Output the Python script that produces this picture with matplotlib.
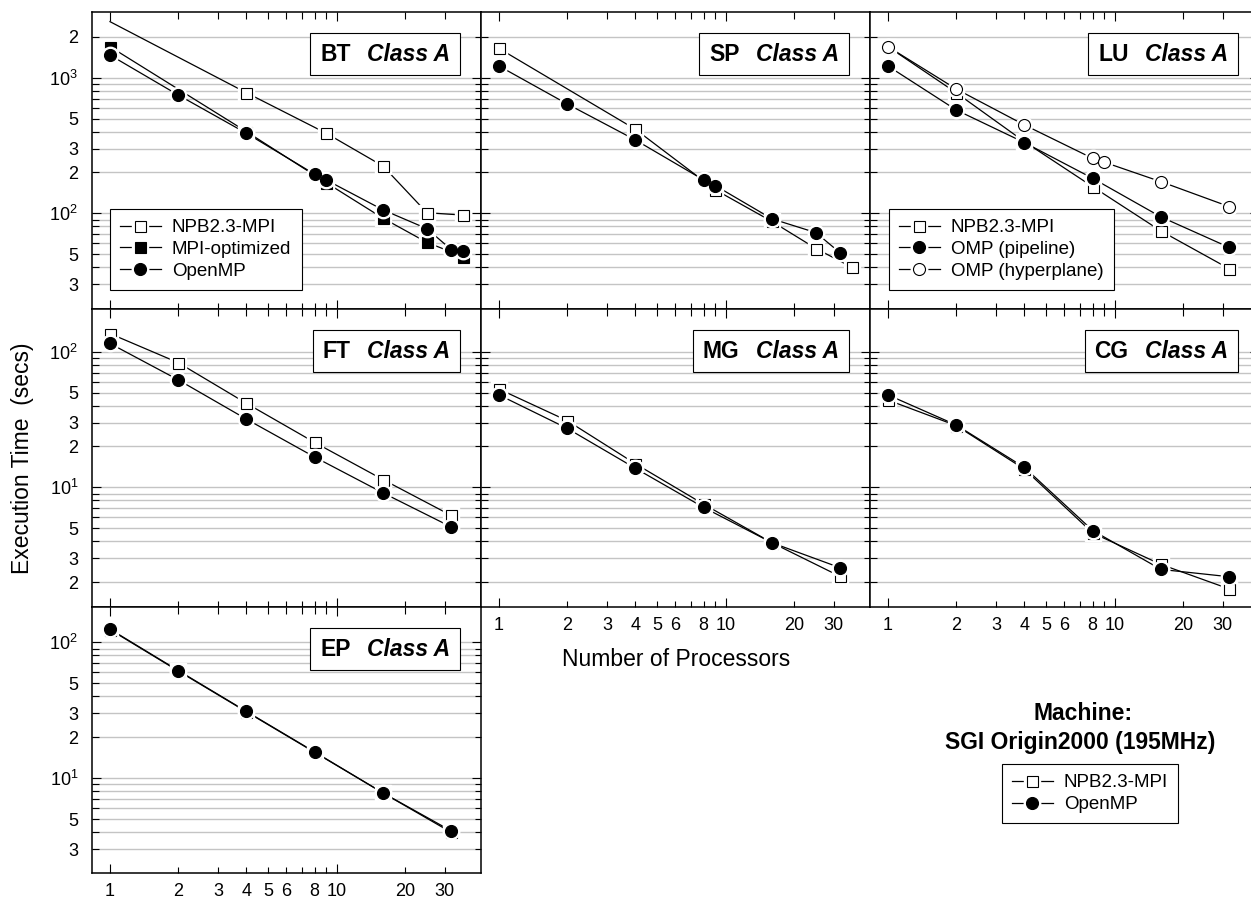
import numpy as np
import matplotlib
matplotlib.use("Agg")
import matplotlib.pyplot as plt
from matplotlib.lines import Line2D
from matplotlib.ticker import FixedLocator, FuncFormatter
from matplotlib.legend_handler import HandlerTuple
from matplotlib.offsetbox import TextArea, HPacker, AnchoredOffsetbox

plt.rcParams["font.family"] = ["Liberation Sans", "DejaVu Sans"]
plt.rcParams["mathtext.fontset"] = "custom"
plt.rcParams["mathtext.rm"] = "Liberation Sans"

# ---------------- data: execution time (secs) vs number of processors ----------------
bt_mpi_procs = [1, 4, 9, 16, 25, 36]
bt_mpi_time = [2590, 774, 389, 223, 101, 97]
bt_opt_procs = [1, 4, 9, 16, 25, 36]
bt_opt_time = [1693, 400, 168, 92, 61, 48]
bt_omp_procs = [1, 2, 4, 8, 9, 16, 25, 32, 36]
bt_omp_time = [1469, 745, 389, 194, 176, 106, 77, 54, 53]

sp_mpi_procs = [1, 4, 9, 16, 25, 36]
sp_mpi_time = [1644, 416, 149, 87, 55, 40]
sp_omp_procs = [1, 2, 4, 8, 9, 16, 25, 32]
sp_omp_time = [1219, 640, 347, 176, 160, 91, 72, 51]

lu_procs = [1, 2, 4, 8, 16, 32]
lu_mpi_time = [1693, 774, 337, 157, 74, 39]
lu_pipe_time = [1219, 578, 332, 181, 94, 56]
lu_hyper_procs = [1, 2, 4, 8, 9, 16, 32]
lu_hyper_time = [1693, 825, 448, 254, 238, 171, 112]

procs = [1, 2, 4, 8, 16, 32]
ft_mpi_time = [136, 83, 41.6, 21.4, 11.4, 6.2]
ft_omp_time = [115, 62, 31.8, 16.7, 9.1, 5.1]
mg_mpi_time = [53, 31, 14.9, 7.5, 3.9, 2.2]
mg_omp_time = [48, 27.2, 13.8, 7.1, 3.9, 2.55]
cg_mpi_time = [44, 28.5, 13.6, 4.6, 2.7, 1.78]
cg_omp_time = [48, 28.8, 14.0, 4.8, 2.48, 2.19]
ep_mpi_time = [124, 61.5, 30.8, 15.5, 7.8, 4.0]
ep_omp_time = [125, 62, 31, 15.6, 7.8, 4.1]

x_tick_labels = [1, 2, 3, 4, 5, 6, 8, 10, 20, 30]
labels_mpi = "NPB2.3-MPI"
labels_opt = "MPI-optimized"
labels_omp = "OpenMP"
labels_pipe = "OMP (pipeline)"
labels_hyper = "OMP (hyperplane)"

# ---------------- styling ----------------
W, H = 1251, 900
DPI = 100
PX = 72.0 / DPI  # points per pixel

STYLES = {
    "mpi": ("s", "white", 11 * PX),
    "opt": ("s", "black", 11 * PX),
    "omp": ("o", "black", 12 * PX),
    "hyper": ("o", "white", 12 * PX),
}
LW = 0.9
HALO = 3.2
GRID_C = "#c4c4c4"
TXT = 16.5
TICK = 13
LEG = 13.5

col_left = [92, 481, 870]
col_w = 389
row_top = [12, 309, 607]
row_bot = [309, 607, 873]
row_ylim = [(19.69, 3051), (1.31, 206.5), (2.01, 181.8)]
xlim = (0.833, 43.3)

fig = plt.figure(figsize=(W / DPI, H / DPI), dpi=DPI)


def make_ax(r, c):
    l = col_left[c] / W
    b = 1 - row_bot[r] / H
    h = (row_bot[r] - row_top[r]) / H
    ax = fig.add_axes([l, b, col_w / W, h])
    ax.set_xscale("log")
    ax.set_yscale("log")
    ax.set_xlim(*xlim)
    ymin, ymax = row_ylim[r]
    ax.set_ylim(ymin, ymax)
    ax.set_axisbelow(True)

    lo, hi = np.log10(ymin) + 0.02, np.log10(ymax) - 0.02
    majors, minors = [], []
    for e in range(-1, 5):
        for m in range(1, 10):
            v = m * 10.0 ** e
            if lo < np.log10(v) < hi:
                (majors if m == 1 else minors).append(v)
    ax.yaxis.set_major_locator(FixedLocator(majors))
    ax.yaxis.set_minor_locator(FixedLocator(minors))

    def yfmt(v, pos):
        e = int(np.floor(np.log10(v) + 1e-9))
        m = int(round(v / 10.0 ** e))
        if m == 1:
            return r"$\mathregular{10^{%d}}$" % e
        if m in (2, 3, 5):
            return "%d" % m
        return ""

    ax.yaxis.set_major_formatter(FuncFormatter(yfmt))
    ax.yaxis.set_minor_formatter(FuncFormatter(yfmt))

    ax.xaxis.set_major_locator(FixedLocator([1, 10]))
    ax.xaxis.set_minor_locator(FixedLocator([2, 3, 4, 5, 6, 7, 8, 9, 20, 30]))

    def xfmt(v, pos):
        iv = int(round(v))
        return "%d" % iv if iv in x_tick_labels else ""

    ax.xaxis.set_major_formatter(FuncFormatter(xfmt))
    ax.xaxis.set_minor_formatter(FuncFormatter(xfmt))

    ax.grid(True, which="both", axis="y", color=GRID_C, lw=1.0)
    ax.grid(False, axis="x", which="both")
    ax.tick_params(which="both", direction="in", top=True, right=True,
                   bottom=True, left=True, width=0.8, labelsize=TICK,
                   colors="black")
    ax.tick_params(which="major", length=9 * PX)
    ax.tick_params(which="minor", length=6.5 * PX)
    ax.tick_params(axis="y", which="both", pad=10)
    ax.tick_params(axis="x", which="both", pad=7)
    for s in ax.spines.values():
        s.set_linewidth(1.1)
    show_x = (r, c) in [(1, 1), (1, 2), (2, 0)]
    ax.tick_params(axis="x", which="both", labelbottom=show_x)
    ax.tick_params(axis="y", which="both", labelleft=(c == 0))
    return ax


def draw_series(ax, x, y, kind, order, skip_first=False):
    m, fc, ms = STYLES[kind]
    me = slice(1, None) if skip_first else None
    ax.plot(x, y, color="black", lw=LW, zorder=2)
    ax.plot(x, y, ls="none", marker=m, ms=ms + HALO, mfc="white",
            mec="white", markevery=me, zorder=3 + 2 * order)
    ax.plot(x, y, ls="none", marker=m, ms=ms, mfc=fc, mec="black", mew=0.8,
            markevery=me, zorder=4 + 2 * order)


def handle(kind):
    m, fc, ms = STYLES[kind]
    line = Line2D([], [], color="black", lw=LW)
    halo = Line2D([], [], ls="none", marker=m, ms=ms + HALO, mfc="white", mec="white")
    mark = Line2D([], [], ls="none", marker=m, ms=ms, mfc=fc, mec="black", mew=0.8)
    return (line, halo, mark)


def legend_kw():
    return dict(handler_map={tuple: HandlerTuple(ndivide=1, pad=0)}, fontsize=LEG,
                frameon=True, fancybox=False, shadow=False, framealpha=1,
                edgecolor="black", borderpad=0.55, labelspacing=0.24,
                handlelength=2.15, handletextpad=0.6, borderaxespad=0,
                numpoints=1)


def title_box(ax, name, r):
    hpx = row_bot[r] - row_top[r]
    t1 = TextArea(name, textprops=dict(fontsize=TXT, fontweight="bold"))
    t2 = TextArea("Class A", textprops=dict(fontsize=TXT, fontweight="bold",
                                            fontstyle="italic"))
    pack = HPacker(children=[t1, t2], align="baseline", pad=0, sep=12)
    box = AnchoredOffsetbox(loc="upper right", child=pack, pad=0.42, borderpad=0,
                            frameon=True, prop=dict(size=TXT),
                            bbox_to_anchor=(1 - 21 / col_w, 1 - 21 / hpx),
                            bbox_transform=ax.transAxes)
    box.patch.set_boxstyle("square", pad=0)
    box.patch.set_edgecolor("black")
    box.patch.set_linewidth(0.8)
    box.set_zorder(20)
    ax.add_artist(box)


# ---------------- panels ----------------
ax = make_ax(0, 0)
draw_series(ax, bt_mpi_procs, bt_mpi_time, "mpi", 0, skip_first=True)
draw_series(ax, bt_opt_procs, bt_opt_time, "opt", 1)
draw_series(ax, bt_omp_procs, bt_omp_time, "omp", 2)
title_box(ax, "BT", 0)
leg = ax.legend([handle("mpi"), handle("opt"), handle("omp")],
                [labels_mpi, labels_opt, labels_omp], loc="lower left",
                bbox_to_anchor=((110 - 92) / col_w, (309 - 290) / 297), **legend_kw())
leg.get_frame().set_linewidth(0.8)
leg.set_zorder(20)

ax = make_ax(0, 1)
draw_series(ax, sp_mpi_procs, sp_mpi_time, "mpi", 0)
draw_series(ax, sp_omp_procs, sp_omp_time, "omp", 1)
title_box(ax, "SP", 0)

ax = make_ax(0, 2)
draw_series(ax, lu_procs, lu_mpi_time, "mpi", 0)
draw_series(ax, lu_procs, lu_pipe_time, "omp", 1)
draw_series(ax, lu_hyper_procs, lu_hyper_time, "hyper", 2)
title_box(ax, "LU", 0)
leg = ax.legend([handle("mpi"), handle("omp"), handle("hyper")],
                [labels_mpi, labels_pipe, labels_hyper], loc="lower left",
                bbox_to_anchor=((889 - 870) / col_w, (309 - 290) / 297), **legend_kw())
leg.get_frame().set_linewidth(0.8)
leg.set_zorder(20)

for (r, c, name, mpi_t, omp_t) in [(1, 0, "FT", ft_mpi_time, ft_omp_time),
                                   (1, 1, "MG", mg_mpi_time, mg_omp_time),
                                   (1, 2, "CG", cg_mpi_time, cg_omp_time),
                                   (2, 0, "EP", ep_mpi_time, ep_omp_time)]:
    ax = make_ax(r, c)
    draw_series(ax, procs, mpi_t, "mpi", 0)
    draw_series(ax, procs, omp_t, "omp", 1)
    title_box(ax, name, r)

# ---------------- figure-level text ----------------
fig.text(23 / W, 1 - 458 / H, "Execution Time  (secs)", rotation=90,
         ha="center", va="center", fontsize=TXT)
fig.text(676 / W, 1 - 659 / H, "Number of Processors", ha="center", va="center",
         fontsize=TXT)
fig.text(1083 / W, 1 - 713 / H, "Machine:", ha="center", va="center",
         fontsize=TXT, fontweight="bold")
fig.text(1080 / W, 1 - 743 / H, "SGI Origin2000 (195MHz)", ha="center",
         va="center", fontsize=TXT, fontweight="bold")
leg = fig.legend([handle("mpi"), handle("omp")], [labels_mpi, labels_omp],
                 loc="upper left", bbox_to_anchor=(1002 / W, 1 - 764 / H),
                 bbox_transform=fig.transFigure, **legend_kw())
leg.get_frame().set_linewidth(0.8)

fig.savefig("out.png", dpi=DPI)
